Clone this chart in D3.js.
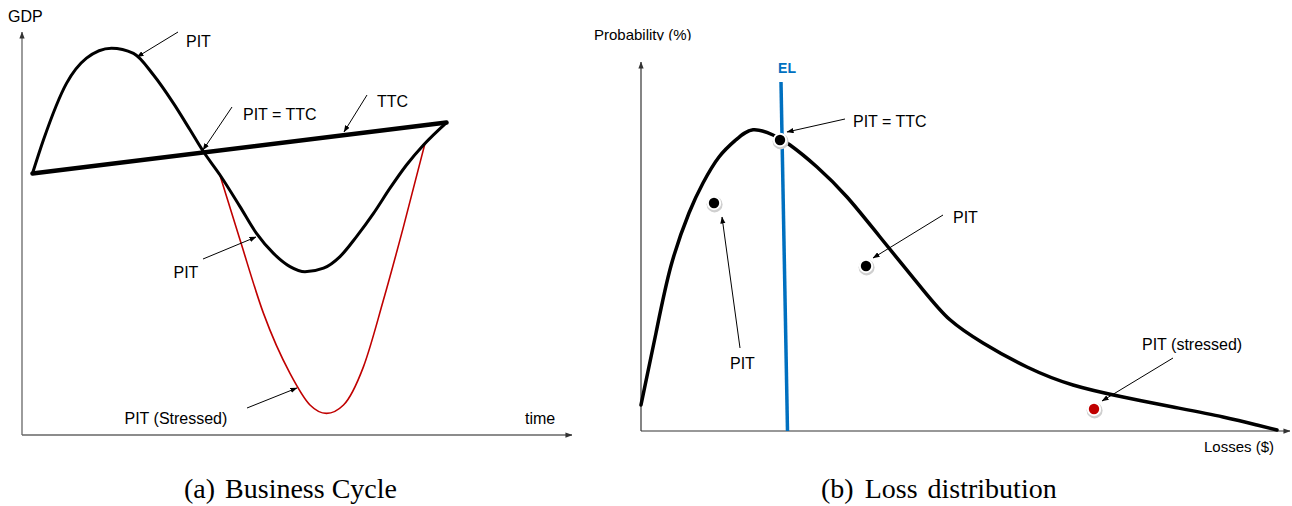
<!DOCTYPE html>
<html><head><meta charset="utf-8">
<script src="https://cdn.jsdelivr.net/npm/d3@7"></script>
<style>body{margin:0;background:#fff}svg{display:block}</style>
</head><body>
<svg id="c" width="1292" height="506"></svg>
<script>
// ---------- DATA (panel a: business cycle; time 0..110, GDP 0..100) ----------
const pitTime   = [2.1, 4.3, 8.9, 12.9, 17.9, 22.3, 26.3, 30.3, 33.6, 36.3, 39.6, 43.6, 46.9, 50.3, 53.6, 56.6, 60.3, 63.6, 66.9, 70.3, 73.6, 76.9, 80.3, 84.9];
const pitGDP    = [65.4, 73.8, 87.9, 94.2, 96.7, 95.4, 90, 82.9, 76.3, 70.8, 65, 57.1, 50.4, 45.4, 42.1, 40.8, 41.7, 44.6, 49.6, 55.4, 61.7, 67.5, 72.5, 78.1];
const stressedTime = [39.5, 43.6, 48.3, 53.6, 57.6, 60.9, 64.3, 68.3, 72.3, 76.3, 80.6];
const stressedGDP  = [65.3, 48.8, 30.4, 15.4, 7.5, 5.4, 7.5, 17.1, 33.8, 52.1, 72.9];
const ttcTime = [2.1, 84.9];
const ttcGDP  = [65.4, 78.1];

// ---------- DATA (panel b: loss distribution; losses 0..130, probability 0..100) ----------
const lossValues = [0, 3, 6, 9.6, 12.4, 15.6, 19, 22.4, 26.4, 29.8, 35.2, 41.2, 47.8, 56.4, 61.8, 68.4, 77.2, 86.4, 96.4, 106.4, 116.4, 123.2, 127.2];
const lossProb   = [6.5, 24.5, 41.3, 54.5, 62, 68.5, 72.8, 75.3, 74, 71.5, 66, 58.5, 48.5, 35.3, 27.8, 22, 16, 11.5, 8.5, 6, 3.5, 1.5, 0.25];
const pointNames = ["PIT = TTC", "PIT", "PIT", "PIT (stressed)"];
const pointLoss  = [27.8, 14.6, 45, 90.6];
const pointProb  = [72.75, 57, 41.25, 5.5];
const pointStressed = [false, false, false, true];
const elLoss = [28, 29.3];
const elProb = [87.25, 0];

// ---------- ANNOTATIONS (in data units) ----------
const annA = [
  {text: "PIT",            tx: 32.8, ty: 97,    x1: 31.2, y1: 100.75, x2: 23,   y2: 94.5},
  {text: "PIT = TTC",      tx: 44.2, ty: 78.75, x1: 42,   y1: 82,     x2: 36.2, y2: 71.25, clip: true},
  {text: "TTC",            tx: 71,   ty: 82,    x1: 69,   y1: 85,     x2: 64.4, y2: 75.75},
  {text: "PIT",            tx: 30.3, ty: 39.25, x1: 36.2, y1: 44,     x2: 46.8, y2: 49.5},
  {text: "PIT (Stressed)", tx: 20.5, ty: 2.75,  x1: 45,   y1: 6.75,   x2: 55,   y2: 11.75}
];
const annB = [
  {text: "PIT = TTC",      tx: 42.4,  ty: 76,    x1: 40.8,  y1: 78,    x2: 29.2, y2: 74.75},
  {text: "PIT",            tx: 62.4,  ty: 52,    x1: 60.4,  y1: 54,    x2: 46.4, y2: 43.25},
  {text: "PIT",            tx: 17.8,  ty: 15.5,  x1: 19.8,  y1: 20.75, x2: 16.2, y2: 53.5},
  {text: "PIT (stressed)", tx: 100.2, ty: 20.25, x1: 106.4, y1: 18.25, x2: 92.2, y2: 7.5}
];

// ---------- LAYOUT ----------
const svg = d3.select("#c");
const SANS = "'Liberation Sans', Arial, sans-serif";
const SERIF = "'Liberation Serif', 'Times New Roman', serif";
const BLUE = "#0070c0", RED = "#c00000";
const FS = 16;

const defs = svg.append("defs");
defs.append("marker").attr("id","ah").attr("viewBox","0 0 8 6")
  .attr("markerWidth",7).attr("markerHeight",5.5).attr("refX",7.5).attr("refY",3)
  .attr("markerUnits","userSpaceOnUse").attr("orient","auto")
  .append("path").attr("d","M0,0L8,3L0,6z").attr("fill","#000");
defs.append("marker").attr("id","axh").attr("viewBox","0 0 8 6")
  .attr("markerWidth",7).attr("markerHeight",5.5).attr("refX",7.5).attr("refY",3)
  .attr("markerUnits","userSpaceOnUse").attr("orient","auto")
  .append("path").attr("d","M0,0L8,3L0,6z").attr("fill","#333");
defs.append("clipPath").attr("id","clipA").append("rect").attr("x",0).attr("y",0).attr("width",640).attr("height",120.5);
defs.append("clipPath").attr("id","clipB").append("rect").attr("x",580).attr("y",0).attr("width",300).attr("height",40.5);

// ===== Panel a =====
const xA = d3.scaleLinear().domain([0, 110]).range([22, 572]);
const yA = d3.scaleLinear().domain([0, 100]).range([435, 35]);
const gA = svg.append("g");

gA.append("line").attr("x1", xA(0)).attr("y1", yA(0)).attr("x2", xA(0)).attr("y2", yA(100.75))
  .attr("stroke","#666").attr("stroke-width",1.3).attr("marker-end","url(#axh)");
gA.append("line").attr("x1", xA(0)).attr("y1", yA(0)).attr("x2", xA(110)).attr("y2", yA(0))
  .attr("stroke","#666").attr("stroke-width",1.3).attr("marker-end","url(#axh)");

const lineA = d3.line().x(d => xA(d[0])).y(d => yA(d[1])).curve(d3.curveMonotoneX);
gA.append("path").attr("d", lineA(stressedTime.map((t,i)=>[t, stressedGDP[i]])))
  .attr("fill","none").attr("stroke",RED).attr("stroke-width",1.6);
gA.append("path").attr("d", lineA(pitTime.map((t,i)=>[t, pitGDP[i]])))
  .attr("fill","none").attr("stroke","#000").attr("stroke-width",3).attr("stroke-linejoin","round");
gA.append("path").attr("d", d3.line().x(d=>xA(d[0])).y(d=>yA(d[1]))(ttcTime.map((t,i)=>[t, ttcGDP[i]])))
  .attr("fill","none").attr("stroke","#000").attr("stroke-width",4.5).attr("stroke-linecap","round");

annA.forEach(a => {
  gA.append("line").attr("x1",xA(a.x1)).attr("y1",yA(a.y1)).attr("x2",xA(a.x2)).attr("y2",yA(a.y2))
    .attr("stroke","#000").attr("stroke-width",1).attr("marker-end","url(#ah)");
  const t = gA.append("text").attr("x",xA(a.tx)).attr("y",yA(a.ty)).text(a.text)
    .attr("font-family",SANS).attr("font-size",FS).attr("fill","#000");
  if (a.clip) t.attr("clip-path","url(#clipA)");
});
gA.append("text").attr("x",xA(-2.8)).attr("y",yA(103.25)).text("GDP")
  .attr("font-family",SANS).attr("font-size",FS);
gA.append("text").attr("x",xA(100.6)).attr("y",yA(2.75)).text("time")
  .attr("font-family",SANS).attr("font-size",FS);

const capA = svg.append("text").attr("x",184).attr("y",498).attr("font-family",SERIF).attr("font-size",28);
capA.append("tspan").text("(a)");
capA.append("tspan").attr("dx",10).text("Business Cycle");

// ===== Panel b =====
const xB = d3.scaleLinear().domain([0, 130]).range([641, 1291]);
const yB = d3.scaleLinear().domain([0, 100]).range([431, 31]);
const gB = svg.append("g");

gB.append("line").attr("x1", xB(0)).attr("y1", yB(0)).attr("x2", xB(0)).attr("y2", yB(92.25))
  .attr("stroke","#333").attr("stroke-width",1.2).attr("marker-end","url(#axh)");
gB.append("line").attr("x1", xB(0)).attr("y1", yB(0)).attr("x2", xB(129.8)).attr("y2", yB(0))
  .attr("stroke","#333").attr("stroke-width",1.2).attr("marker-end","url(#axh)");

gB.append("line").attr("x1",xB(elLoss[0])).attr("y1",yB(elProb[0])).attr("x2",xB(elLoss[1])).attr("y2",yB(elProb[1]))
  .attr("stroke",BLUE).attr("stroke-width",3.5);
gB.append("text").attr("x",xB(29.2)).attr("y",yB(89.5)).attr("text-anchor","middle").text("EL")
  .attr("font-family",SANS).attr("font-size",14).attr("font-weight","bold").attr("fill",BLUE);

const lineB = d3.line().x(d => xB(d[0])).y(d => yB(d[1])).curve(d3.curveNatural);
gB.append("path").attr("d", lineB(lossValues.map((v,i)=>[v, lossProb[i]])))
  .attr("fill","none").attr("stroke","#000").attr("stroke-width",3.5).attr("stroke-linecap","round");

pointLoss.forEach((v,i) => {
  const cx = xB(v), cy = yB(pointProb[i]);
  gB.append("circle").attr("cx",cx+0.6).attr("cy",cy+1.4).attr("r",8).attr("fill","#cfcfcf");
  gB.append("circle").attr("cx",cx).attr("cy",cy).attr("r",7.2).attr("fill","#fff");
  gB.append("circle").attr("cx",cx).attr("cy",cy).attr("r",5.2).attr("fill", pointStressed[i] ? RED : "#000");
});

annB.forEach(a => {
  gB.append("line").attr("x1",xB(a.x1)).attr("y1",yB(a.y1)).attr("x2",xB(a.x2)).attr("y2",yB(a.y2))
    .attr("stroke","#000").attr("stroke-width",1).attr("marker-end","url(#ah)");
  gB.append("text").attr("x",xB(a.tx)).attr("y",yB(a.ty)).text(a.text)
    .attr("font-family",SANS).attr("font-size",FS).attr("fill","#000");
});
gB.append("text").attr("x",xB(-9.4)).attr("y",yB(97.75)).text("Probability (%)")
  .attr("font-family",SANS).attr("font-size",15).attr("clip-path","url(#clipB)");
gB.append("text").attr("x",xB(112.6)).attr("y",yB(-5.25)).text("Losses ($)")
  .attr("font-family",SANS).attr("font-size",15);

const capB = svg.append("text").attr("x",821).attr("y",498).attr("font-family",SERIF).attr("font-size",28);
capB.append("tspan").text("(b)");
capB.append("tspan").attr("dx",11).attr("word-spacing",3).text("Loss distribution");
</script>
</body></html>
